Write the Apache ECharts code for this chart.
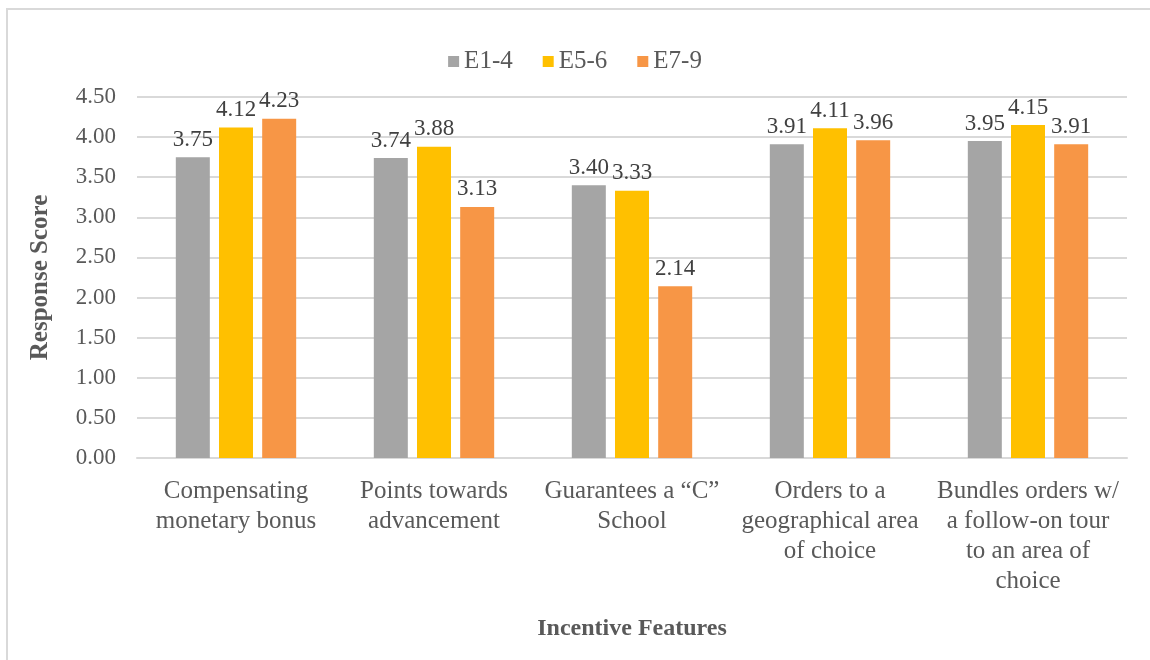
<!DOCTYPE html>
<html>
<head>
<meta charset="utf-8">
<title>Response Score by Incentive Features</title>
<script src="https://cdn.jsdelivr.net/npm/echarts@6/dist/echarts.min.js"></script>
<style>
  html, body { margin: 0; padding: 0; background: #ffffff; }
  #chart { width: 1150px; height: 660px; }
</style>
</head>
<body>
<div id="chart"></div>
<script>
// Incentive features surveyed (x-axis categories)
const categories = [
  'Compensating\nmonetary bonus',
  'Points towards\nadvancement',
  'Guarantees a \u201CC\u201D\nSchool',
  'Orders to a\ngeographical area\nof choice',
  'Bundles orders w/\na follow-on tour\nto an area of\nchoice'
];

// Mean response score per paygrade group
const e1to4 = [3.75, 3.74, 3.40, 3.91, 3.95];
const e5to6 = [4.12, 3.88, 3.33, 4.11, 4.15];
const e7to9 = [4.23, 3.13, 2.14, 3.96, 3.91];

const seriesNames = ['E1-4', 'E5-6', 'E7-9'];
const seriesColors = ['#a5a5a5', '#ffc000', '#f79646'];

const textColor = '#595959';
const fontFamily = 'Liberation Serif';

function barSeries(name, data, color) {
  return {
    name: name,
    type: 'bar',
    data: data,
    barWidth: 34,
    barGap: '27%',
    itemStyle: { color: color },
    label: {
      show: true,
      position: 'top',
      distance: 6,
      color: '#404040',
      fontFamily: fontFamily,
      fontSize: 23,
      formatter: p => p.value.toFixed(2)
    }
  };
}

const chart = echarts.init(document.getElementById('chart'), null, { renderer: 'canvas' });

chart.setOption({
  backgroundColor: '#ffffff',
  animation: false,
  textStyle: { fontFamily: fontFamily, color: textColor },
  graphic: [{
    type: 'rect',
    silent: true,
    z: -10,
    shape: { x: 7, y: 9, width: 1200, height: 700 },
    style: { fill: 'none', stroke: '#d9d9d9', lineWidth: 2 }
  }],
  legend: {
    top: 44,
    left: 'center',
    itemWidth: 11,
    itemHeight: 11,
    itemGap: 30,
    icon: 'rect',
    textStyle: { fontFamily: fontFamily, fontSize: 25, color: textColor },
    data: seriesNames
  },
  grid: {
    left: 137,
    right: 23,
    top: 97,
    bottom: 202,
    containLabel: false
  },
  xAxis: {
    type: 'category',
    data: categories,
    name: 'Incentive Features',
    nameLocation: 'middle',
    nameGap: 159,
    nameTextStyle: { fontFamily: fontFamily, fontSize: 24, fontWeight: 'bold', color: textColor },
    axisLine: { show: true, lineStyle: { color: '#d9d9d9', width: 2 } },
    axisTick: { show: false },
    axisLabel: {
      interval: 0,
      margin: 18,
      fontFamily: fontFamily,
      fontSize: 25,
      lineHeight: 30,
      color: textColor,
      align: 'center'
    }
  },
  yAxis: {
    type: 'value',
    min: 0,
    max: 4.5,
    interval: 0.5,
    name: 'Response Score',
    nameLocation: 'middle',
    nameGap: 84,
    nameTextStyle: { fontFamily: fontFamily, fontSize: 25, fontWeight: 'bold', color: textColor },
    axisLine: { show: false },
    axisTick: { show: false },
    splitLine: { show: true, lineStyle: { color: '#d9d9d9', width: 2 } },
    axisLabel: {
      margin: 21,
      fontFamily: fontFamily,
      fontSize: 23,
      color: textColor,
      formatter: v => v.toFixed(2)
    }
  },
  series: [
    barSeries(seriesNames[0], e1to4, seriesColors[0]),
    barSeries(seriesNames[1], e5to6, seriesColors[1]),
    barSeries(seriesNames[2], e7to9, seriesColors[2])
  ]
});
</script>
</body>
</html>
